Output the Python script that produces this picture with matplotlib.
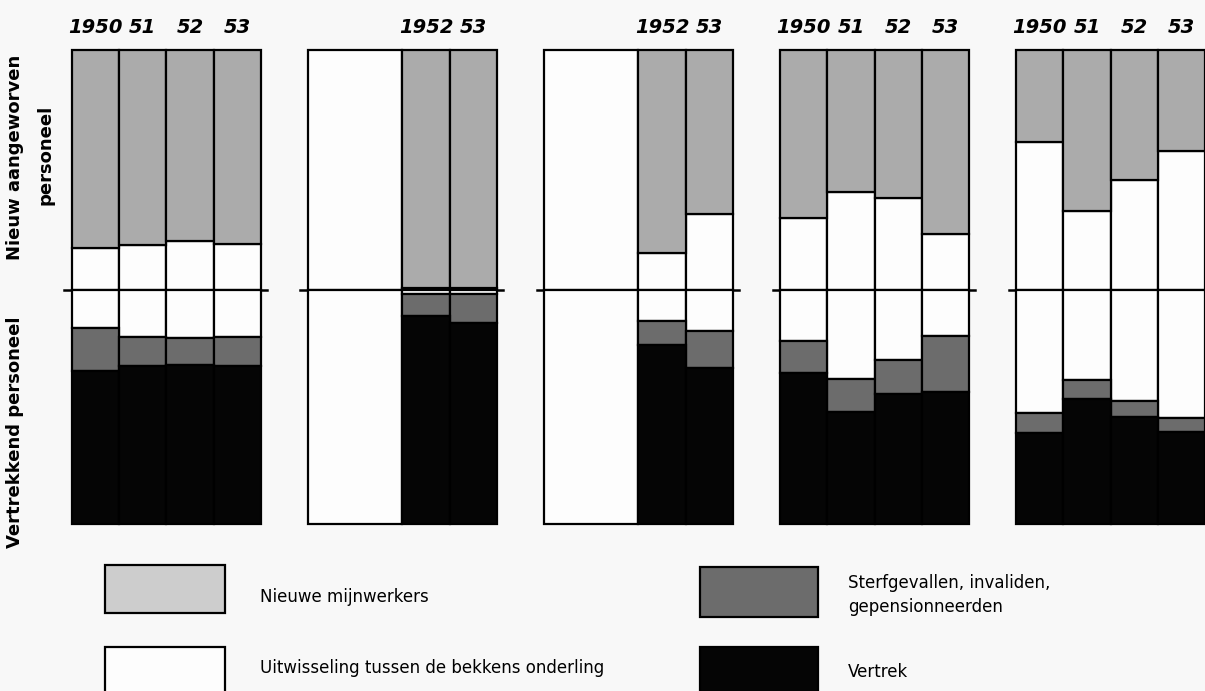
import matplotlib
matplotlib.use("Agg")
import matplotlib.pyplot as plt
from matplotlib.patches import Rectangle

# years per group (5 groups)
jaren_1 = ["1950", "51", "52", "53"]
jaren_2 = ["1952", "53"]
jaren_3 = ["1952", "53"]
jaren_4 = ["1950", "51", "52", "53"]
jaren_5 = ["1950", "51", "52", "53"]

# upper half: new personnel (%), new miners + exchange in
nieuwe_1 = [82.5, 81.3, 79.6, 80.8]
nieuwe_2 = [99.0, 99.0]
nieuwe_3 = [84.4, 68.5]
nieuwe_4 = [70.1, 59.3, 61.7, 76.8]
nieuwe_5 = [38.4, 67.2, 54.0, 42.0]

uitw_in_1 = [17.5, 18.7, 20.4, 19.2]
uitw_in_2 = [1.0, 1.0]
uitw_in_3 = [15.6, 31.5]
uitw_in_4 = [29.9, 40.7, 38.3, 23.2]
uitw_in_5 = [61.6, 32.8, 46.0, 58.0]

# lower half: departing personnel (%)
uitw_uit_1 = [16.2, 20.1, 20.5, 20.1]
uitw_uit_2 = [1.5, 1.5]
uitw_uit_3 = [13.4, 17.5]
uitw_uit_4 = [22.0, 38.2, 29.9, 19.8]
uitw_uit_5 = [52.6, 38.3, 47.5, 54.5]

sterf_1 = [18.4, 12.4, 11.5, 12.4]
sterf_2 = [9.8, 12.7]
sterf_3 = [10.2, 16.0]
sterf_4 = [13.4, 13.9, 14.7, 23.6]
sterf_5 = [8.4, 8.2, 6.9, 6.1]

vertrek_1 = [65.4, 67.5, 68.0, 67.5]
vertrek_2 = [88.7, 85.8]
vertrek_3 = [76.4, 66.5]
vertrek_4 = [64.6, 47.9, 55.4, 56.6]
vertrek_5 = [39.0, 53.5, 45.6, 39.4]

groepen = [
    (jaren_1, nieuwe_1, uitw_in_1, uitw_uit_1, sterf_1, vertrek_1),
    (jaren_2, nieuwe_2, uitw_in_2, uitw_uit_2, sterf_2, vertrek_2),
    (jaren_3, nieuwe_3, uitw_in_3, uitw_uit_3, sterf_3, vertrek_3),
    (jaren_4, nieuwe_4, uitw_in_4, uitw_uit_4, sterf_4, vertrek_4),
    (jaren_5, nieuwe_5, uitw_in_5, uitw_uit_5, sterf_5, vertrek_5),
]

bg = "#f8f8f8"
c_nieuw = "#ababab"
c_nieuw_leg = "#cdcdcd"
c_wit = "#fdfdfd"
c_sterf = "#6c6c6c"
c_vertrek = "#050505"
lw = 1.6

W, H = 1205, 691
fig = plt.figure(figsize=(W / 100, H / 100), dpi=100, facecolor=bg)

def pos(top, bottom):
    return [0, (H - bottom) / H, 1, (bottom - top) / H]

ax_up = fig.add_axes(pos(50, 290))
ax_lo = fig.add_axes(pos(290, 524))
for ax in (ax_up, ax_lo):
    ax.set_xlim(-1.525, 24.0)
    ax.axis("off")
    ax.patch.set_alpha(0)
ax_up.set_ylim(0, 100)
ax_lo.set_ylim(100, 0)

for g, (jaren, nieuwe, uin, uuit, sterf, vertrek) in enumerate(groepen):
    start = g * 5
    n = len(jaren)
    eerste = start + 4 - n
    if n < 4:
        # blank wide box for the missing years
        for ax in (ax_up, ax_lo):
            ax.bar(start, 100, width=4 - n, align="edge", color=c_wit,
                   edgecolor="black", linewidth=lw, clip_on=False)
    xs = [eerste + i for i in range(n)]
    ax_up.bar(xs, uin, width=1, align="edge", color=c_wit,
              edgecolor="black", linewidth=lw, clip_on=False)
    ax_up.bar(xs, nieuwe, bottom=uin, width=1, align="edge", color=c_nieuw,
              edgecolor="black", linewidth=lw, clip_on=False)
    ax_lo.bar(xs, uuit, width=1, align="edge", color=c_wit,
              edgecolor="black", linewidth=lw, clip_on=False)
    ax_lo.bar(xs, sterf, bottom=uuit, width=1, align="edge", color=c_sterf,
              edgecolor="black", linewidth=lw, clip_on=False)
    onder = [a + b for a, b in zip(uuit, sterf)]
    ax_lo.bar(xs, vertrek, bottom=onder, width=1, align="edge", color=c_vertrek,
              edgecolor="black", linewidth=lw, clip_on=False)
    # middle line
    ax_up.plot([start - 0.16, start + 4.13], [0, 0], color="black", lw=1.8,
               clip_on=False, zorder=5)
    for x, j in zip(xs, jaren):
        ax_up.text(x + 0.5, 1.092, j, transform=ax_up.get_xaxis_transform(),
                   ha="center", va="center", fontsize=14, fontweight="bold",
                   style="italic", color="black")

fig.text(15 / W, 1 - 157 / H, "Nieuw aangeworven", rotation=90, ha="center",
         va="center", fontsize=13, fontweight="semibold")
fig.text(45 / W, 1 - 155 / H, "personeel", rotation=90, ha="center",
         va="center", fontsize=13, fontweight="semibold")
fig.text(15 / W, 1 - 432 / H, "Vertrekkend personeel", rotation=90,
         ha="center", va="center", fontsize=13, fontweight="semibold")

# legend
ax_leg = fig.add_axes([0, 0, 1, 1])
ax_leg.set_xlim(0, W)
ax_leg.set_ylim(H, 0)
ax_leg.axis("off")
ax_leg.patch.set_alpha(0)
legenda = [
    (105, 565, 120, 48, c_nieuw_leg, "Nieuwe mijnwerkers", 260, 597),
    (105, 647, 120, 48, c_wit, "Uitwisseling tussen de bekkens onderling", 260, 668),
    (700, 567, 118, 50, c_sterf, "Sterfgevallen, invaliden,\ngepensionneerden", 848, 595),
    (700, 647, 118, 48, c_vertrek, "Vertrek", 848, 672),
]
for x, y, w, h, c, tekst, tx, ty in legenda:
    ax_leg.add_patch(Rectangle((x, y), w, h, facecolor=c, edgecolor="black",
                               linewidth=lw, clip_on=False))
    ax_leg.text(tx, ty, tekst, ha="left", va="center", fontsize=12,
                linespacing=1.45)

fig.savefig("out.png", dpi=100, facecolor=bg)
